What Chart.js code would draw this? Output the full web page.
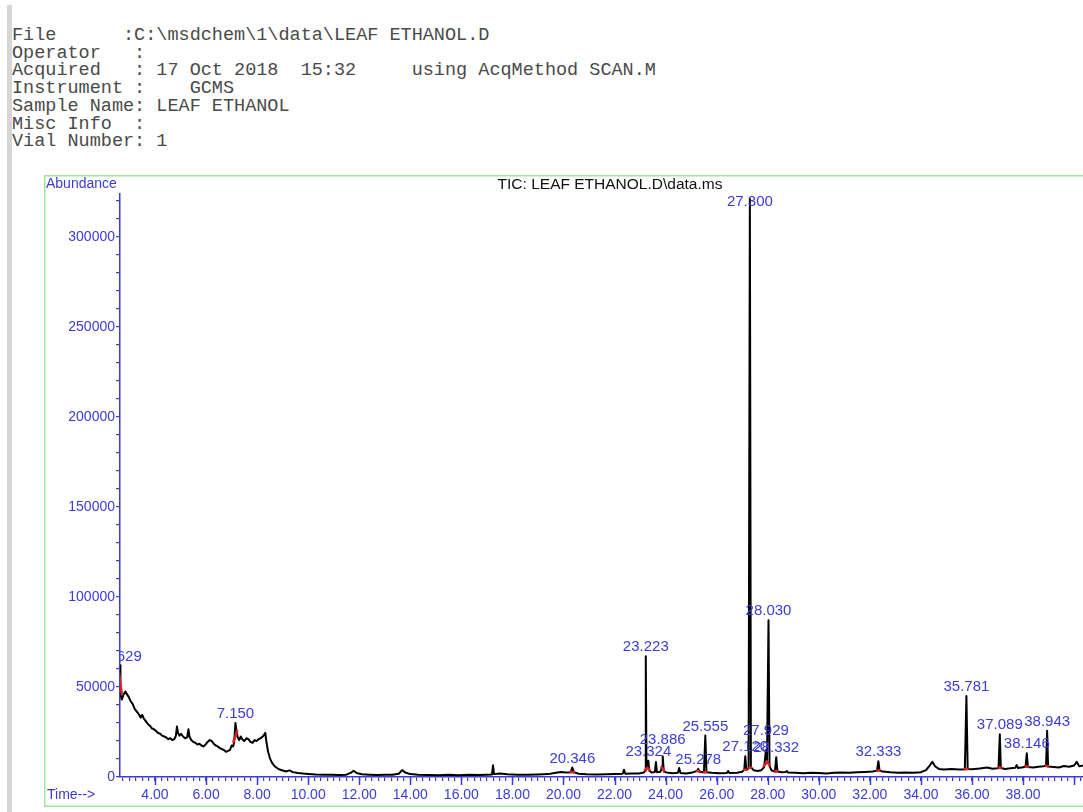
<!DOCTYPE html>
<html>
<head>
<meta charset="utf-8">
<title>TIC: LEAF ETHANOL.D</title>
<script src="https://cdn.jsdelivr.net/npm/chart.js"></script>
<style>
  body { margin: 0; background: #fff; width: 1083px; height: 812px; overflow: hidden; position: relative; }
  #bar { position: absolute; left: 7px; top: 5px; width: 5px; height: 807px; background: #d6d6d6; }
  #hdr { position: absolute; left: 12px; top: 27px; margin: 0; font-family: "Liberation Mono", monospace;
         font-size: 18.5px; line-height: 17.7px; color: #4a4a4a; }
  #tic { position: absolute; left: 44px; top: 175px; }
</style>
</head>
<body>
<div id="bar"></div>
<pre id="hdr">File      :C:\msdchem\1\data\LEAF ETHANOL.D
Operator   :
Acquired   : 17 Oct 2018  15:32     using AcqMethod SCAN.M
Instrument :    GCMS
Sample Name: LEAF ETHANOL
Misc Info  :
Vial Number: 1</pre>
<canvas id="tic" width="1132" height="632"></canvas>
<script>
// retention time (min), abundance
const trace = [
  [2.63, 58000], [2.635, 62000], [2.66, 46000], [2.70, 43000], [2.76, 45500], [2.84, 47500], [2.9, 46000],
  [2.97, 44500], [3.05, 42000], [3.13, 40500], [3.2, 38000], [3.28, 36500], [3.36, 35000], [3.44, 33000],
  [3.5, 34500], [3.56, 32500], [3.64, 31000], [3.72, 29500], [3.8, 28500], [3.88, 27000], [3.96, 26500],
  [4.04, 25500], [4.12, 24500], [4.2, 24000], [4.28, 23000], [4.36, 22500], [4.44, 22000], [4.52, 21000],
  [4.6, 21500], [4.68, 20500], [4.76, 21000], [4.82, 23000], [4.86, 28000], [4.9, 24500], [4.96, 23000],
  [5.02, 24000], [5.1, 22500], [5.18, 21500], [5.26, 22000], [5.31, 26500], [5.35, 22500], [5.42, 20500],
  [5.5, 19500], [5.58, 19000], [5.66, 18000], [5.74, 18500], [5.82, 17500], [5.9, 17000], [5.98, 18000],
  [6.06, 19500], [6.14, 20500], [6.22, 20000], [6.3, 18500], [6.38, 17500], [6.46, 17000], [6.54, 16000],
  [6.62, 15500], [6.7, 15000], [6.78, 14000], [6.86, 14500], [6.94, 15000], [7.0, 17500], [7.06, 17000],
  [7.1, 19000], [7.15, 30000], [7.19, 26000], [7.24, 22000], [7.3, 20500], [7.36, 22500], [7.42, 21000],
  [7.5, 20000], [7.58, 21500], [7.66, 21000], [7.74, 19500], [7.82, 19000], [7.9, 20500], [7.98, 20000],
  [8.06, 21000], [8.14, 21500], [8.22, 22500], [8.28, 23500], [8.32, 24500], [8.37, 19000], [8.43, 14000],
  [8.5, 10500], [8.58, 8000], [8.7, 5800], [8.85, 4300], [9.0, 3600], [9.15, 3100], [9.27, 3700],
  [9.4, 2700], [9.6, 2200], [9.8, 1900], [10.0, 1700], [10.3, 1400], [10.6, 1300], [10.9, 1200],
  [11.2, 1100], [11.5, 1300], [11.68, 2400], [11.78, 3500], [11.9, 2200], [12.1, 1500], [12.4, 1300],
  [12.7, 1100], [13.0, 1300], [13.3, 1200], [13.55, 1800], [13.68, 3800], [13.8, 2500], [14.0, 1600],
  [14.3, 1300], [14.7, 1100], [15.1, 1000], [15.5, 1200], [15.9, 1000], [16.3, 1200], [16.7, 1100],
  [17.0, 1300], [17.2, 1400], [17.24, 6500], [17.28, 1600], [17.5, 2000], [17.8, 1500], [18.2, 1300],
  [18.6, 1200], [19.0, 1400], [19.4, 1600], [19.7, 2300], [19.9, 2800], [20.1, 2500], [20.28, 2600],
  [20.346, 5300], [20.41, 2600], [20.6, 1800], [20.9, 1500], [21.3, 1400], [21.7, 1500], [22.0, 1600],
  [22.32, 1800], [22.37, 4000], [22.42, 1800], [22.7, 1900], [22.95, 2000], [23.15, 2500], [23.2, 3500],
  [23.223, 67000], [23.25, 5000], [23.29, 5500], [23.324, 9000], [23.36, 3500], [23.45, 2500], [23.58, 2800],
  [23.62, 8300], [23.66, 2700], [23.8, 2900], [23.86, 6000], [23.886, 11500], [23.93, 3000], [24.1, 2300],
  [24.3, 2100], [24.48, 2300], [24.53, 5000], [24.58, 2200], [24.8, 2000], [25.0, 2300], [25.15, 3000],
  [25.24, 3500], [25.278, 4500], [25.33, 2900], [25.5, 2600], [25.555, 23000], [25.6, 2700], [25.8, 2300],
  [26.1, 2100], [26.4, 2200], [26.45, 3300], [26.5, 2200], [26.8, 2400], [27.0, 2900], [27.08, 4000],
  [27.12, 11500], [27.16, 4000], [27.25, 4800], [27.3, 321000], [27.34, 5500], [27.45, 3700], [27.6, 3300],
  [27.75, 3800], [27.86, 5500], [27.929, 15000], [27.97, 9000], [28.03, 87000], [28.07, 6000], [28.15, 3600],
  [28.28, 3100], [28.332, 11000], [28.38, 3100], [28.55, 2600], [28.7, 2800], [28.75, 3300], [28.8, 2500],
  [29.1, 2300], [29.4, 2100], [29.7, 2400], [30.0, 2200], [30.3, 2000], [30.6, 2300], [30.9, 2500],
  [31.2, 2300], [31.5, 2600], [31.8, 2800], [32.1, 3000], [32.28, 3500], [32.333, 8800], [32.38, 3600],
  [32.5, 3000], [32.8, 2600], [33.1, 2400], [33.4, 2500], [33.7, 2300], [34.0, 2700], [34.2, 3800],
  [34.35, 6500], [34.45, 8500], [34.55, 6000], [34.7, 4500], [34.9, 4200], [35.2, 4400], [35.5, 4100],
  [35.72, 4300], [35.781, 45000], [35.83, 4500], [36.0, 4300], [36.3, 4700], [36.6, 5300], [36.8, 4600],
  [37.0, 4800], [37.04, 5200], [37.089, 23800], [37.13, 5000], [37.3, 4500], [37.5, 4800], [37.7, 5200],
  [37.75, 6600], [37.8, 5000], [38.0, 5400], [38.1, 5800], [38.146, 13200], [38.19, 5500], [38.4, 5300],
  [38.6, 5700], [38.8, 6000], [38.9, 6200], [38.943, 25700], [38.98, 5800], [39.2, 5600], [39.4, 5300],
  [39.6, 6100], [39.8, 5700], [40.0, 6400], [40.1, 8500], [40.2, 6000], [40.45, 6600]
];

// integrated peaks
const peakTimes = [2.629, 7.150, 20.346, 23.223, 23.324, 23.886, 25.278, 25.555, 27.120, 27.300,
                   27.929, 28.030, 28.332, 32.333, 35.781, 37.089, 38.146, 38.943];
const peakNames = ['2.629', '7.150', '20.346', '23.223', '23.324', '23.886', '25.278', '25.555', '27.120', '27.300',
                   '27.929', '28.030', '28.332', '32.333', '35.781', '37.089', '38.146', '38.943'];

// axis ticks
const timeLabels = [4, 6, 8, 10, 12, 14, 16, 18, 20, 22, 24, 26, 28, 30, 32, 34, 36, 38];
const abundLabels = [0, 50000, 100000, 150000, 200000, 250000, 300000];

const blue = '#3b3bd6';
const tMin = 2.63, tMax = 43.99;

// nudges so crowded labels do not sit on each other
const labelLift = {'23.886': 7, '27.929': 10};
const labelShift = {'2.629': 3};

function apexIndex(t) {
  let k = -1;
  trace.forEach((p, i) => { if (Math.abs(p[0] - t) < 0.02 && (k < 0 || p[1] > trace[k][1])) k = i; });
  return k;
}

const frame = {
  id: 'frame',
  beforeDraw(chart) {
    const c = chart.ctx;
    c.save();
    c.fillStyle = '#fff';
    c.fillRect(0, 0, chart.width, chart.height);
    c.strokeStyle = '#9fe69f';
    c.lineWidth = 1.5;
    c.strokeRect(0.75, 0.75, chart.width - 1.5, chart.height - 1.5);
    c.restore();
  },
  afterDraw(chart) {
    const c = chart.ctx, x = chart.scales.x, a = chart.chartArea;
    c.save();
    c.fillStyle = blue;
    c.font = '14px "Liberation Sans", Arial, sans-serif';
    c.textBaseline = 'middle';
    c.textAlign = 'left';
    c.fillText('Abundance', 2, 9);
    c.fillText('Time-->', 3, 620);
    // longer ticks on the even minutes
    c.strokeStyle = blue;
    c.lineWidth = 1.5;
    x.ticks.forEach(tk => {
      if (tk.value % 2 !== 0) return;
      const px = Math.round(x.getPixelForValue(tk.value)) + 0.5;
      c.beginPath();
      c.moveTo(px, a.bottom);
      c.lineTo(px, a.bottom + 8);
      c.stroke();
    });
    c.restore();
  }
};

const peakMarks = {
  id: 'peakMarks',
  afterDatasetsDraw(chart) {
    const c = chart.ctx, a = chart.chartArea, x = chart.scales.x, y = chart.scales.y;
    c.save();
    c.beginPath();
    c.rect(a.left, a.top, a.right - a.left, a.bottom - a.top);
    c.clip();
    // integration start / end marks at the peak feet
    c.strokeStyle = '#e02020';
    c.lineWidth = 2.5;
    peakTimes.forEach(t => {
      const k = apexIndex(t);
      if (k < 1 || k > trace.length - 2) return;
      const p0 = trace[k - 1], p1 = trace[k + 1];
      c.beginPath();
      c.moveTo(x.getPixelForValue(p0[0]) - 1, y.getPixelForValue(p0[1]));
      c.lineTo(x.getPixelForValue(p1[0]) + 1, y.getPixelForValue(p1[1]));
      c.stroke();
    });
    // retention time labels
    c.fillStyle = blue;
    c.font = '15px "Liberation Sans", Arial, sans-serif';
    c.textAlign = 'center';
    c.textBaseline = 'middle';
    peakTimes.forEach((t, i) => {
      const name = peakNames[i];
      const top = y.getPixelForValue(trace[apexIndex(t)][1]);
      const py = Math.max(top - 9 - (labelLift[name] || 0), a.top + 8);
      c.fillText(name, x.getPixelForValue(t) + (labelShift[name] || 0), py);
    });
    c.restore();
  }
};

const xTicks = [];
for (let v = 2.75; v <= 43.75; v += 0.25) xTicks.push(v);
const yTicks = [];
for (let v = 0; v <= 320000; v += 10000) yTicks.push(v);

new Chart(document.getElementById('tic'), {
  type: 'line',
  data: {
    datasets: [{
      data: trace.map(p => ({x: p[0], y: p[1]})),
      borderColor: '#000',
      borderWidth: 2,
      borderJoinStyle: 'round',
      pointRadius: 0,
      tension: 0,
      fill: false
    }]
  },
  options: {
    responsive: false,
    animation: false,
    events: [],
    layout: {padding: 0},
    plugins: {
      legend: {display: false},
      tooltip: {enabled: false},
      title: {
        display: true,
        text: 'TIC: LEAF ETHANOL.D\\data.ms',
        color: '#111',
        font: {family: '"Liberation Sans", Arial, sans-serif', size: 15.5, weight: 'normal'},
        padding: {top: 0, bottom: 0}
      }
    },
    scales: {
      x: {
        type: 'linear',
        min: tMin,
        max: tMax,
        afterBuildTicks: s => { s.ticks = xTicks.map(v => ({value: v})); },
        afterFit: s => { s.height = 30; },
        border: {color: blue, width: 1.5},
        grid: {drawOnChartArea: false, tickLength: 4, color: blue, lineWidth: 1.2},
        ticks: {
          autoSkip: false,
          maxRotation: 0,
          padding: 6,
          color: blue,
          font: {family: '"Liberation Sans", Arial, sans-serif', size: 14},
          callback: v => timeLabels.includes(v) ? v.toFixed(2) : ''
        }
      },
      y: {
        min: 0,
        max: 324000,
        afterBuildTicks: s => { s.ticks = yTicks.map(v => ({value: v})); },
        afterFit: s => { s.width = 76; },
        border: {color: blue, width: 1.5},
        grid: {drawOnChartArea: false, tickLength: 4, color: blue, lineWidth: 1.2},
        ticks: {
          autoSkip: false,
          padding: 1,
          color: blue,
          font: {family: '"Liberation Sans", Arial, sans-serif', size: 14},
          callback: v => abundLabels.includes(v) ? String(v) : ''
        }
      }
    }
  },
  plugins: [frame, peakMarks]
});
</script>
</body>
</html>
